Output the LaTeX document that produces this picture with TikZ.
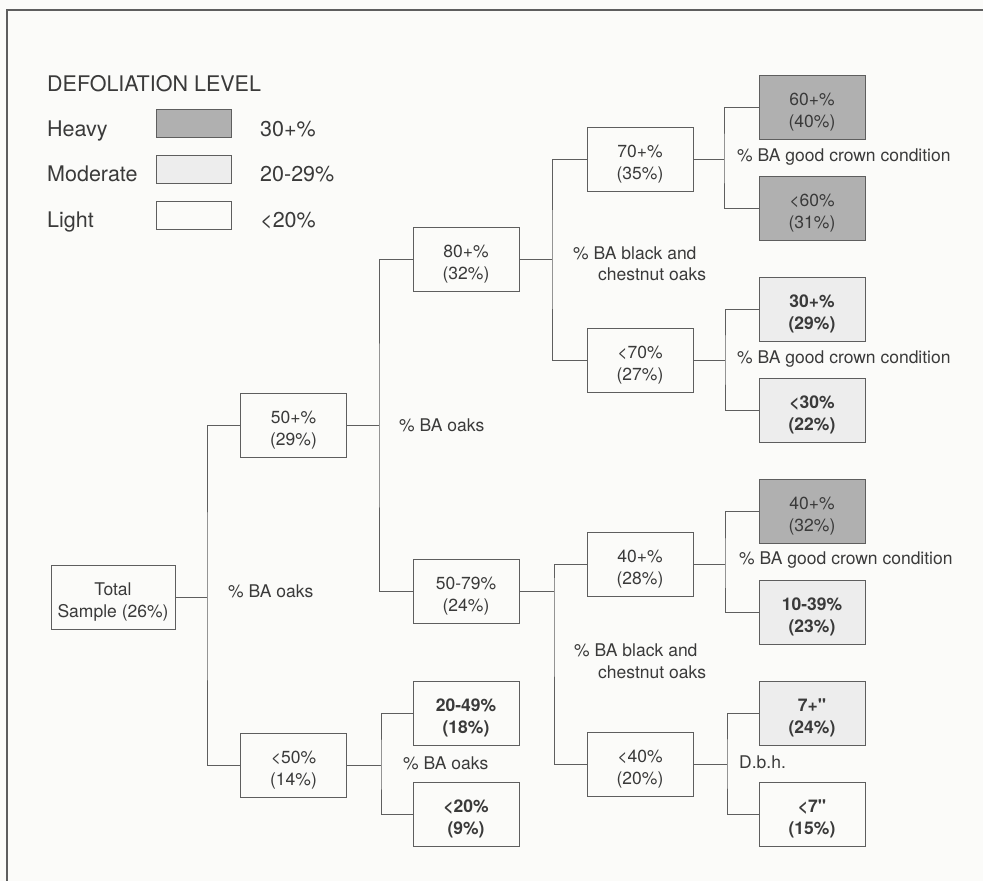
\documentclass[tikz,border=0pt]{standalone}
\usepackage{fontspec}
\setmainfont{TeX Gyre Heros}[Ligatures=TeXOff]
\definecolor{bg}{HTML}{FBFBF9}
\definecolor{ink}{HTML}{3A3A3A}
\definecolor{ln}{HTML}{5E5E5E}
\definecolor{heavy}{HTML}{B0B0B0}
\definecolor{moder}{HTML}{EDEDED}
\newcommand{\bxt}[2]{\raisebox{-5pt}[\height][\depth]{\begin{tabular}{@{}c@{}}#1\\#2\end{tabular}}}
\begin{document}
\begin{tikzpicture}[x=1pt,y=-1pt,
 box/.style={draw=ln, line width=1pt, minimum width=106pt, minimum height=64pt, inner sep=0pt, font=\fontsize{17.5}{22}\selectfont, text=ink, fill=bg},
 leaf/.style={box, font=\fontsize{17.5}{22}\selectfont\bfseries},
 hv/.style={box, fill=heavy},
 md/.style={leaf, fill=moder},
 lab/.style={anchor=base west, inner sep=0pt, text=ink, font=\fontsize{17.5}{22}\selectfont},
 leg/.style={anchor=base west, inner sep=0pt, text=ink, font=\fontsize{21.5}{26}\selectfont},
 legbox/.style={draw=ln, line width=1pt, minimum width=75pt, minimum height=28pt, inner sep=0pt},
 conn/.style={draw=ln, line width=1pt}]
\fill[bg] (0,0) rectangle (983,881);
\useasboundingbox (0,0) rectangle (983,881);
\draw[ln, line width=1.5pt] (983,10) -- (7,10) -- (7,881);

% legend
\node[leg] (lt) at (47,91) {DEFOLIATION LEVEL};
\node[leg] (lh) at (47,136) {Heavy};
\node[legbox, fill=heavy] (bh) at (193.5,123) {};
\node[leg] (vh) at (260,136) {30+\%};
\node[leg] (lm) at (47,181) {Moderate};
\node[legbox, fill=moder] (bm) at (193.5,169.5) {};
\node[leg] (vm) at (260,181) {20-29\%};
\node[leg] (ll) at (47,227) {Light};
\node[legbox, fill=bg] (bl) at (193.5,215.5) {};
\node[leg] (vl) at (260,227) {<20\%};

% boxes
\node[box, minimum width=124pt] (tot) at (113,597) {\bxt{Total}{Sample (26\%)}};
\node[box] (n50p) at (293.5,425.5) {\bxt{50+\%}{(29\%)}};
\node[box] (n50m) at (293.5,765) {\bxt{<50\%}{(14\%)}};
\node[box] (n80) at (466,259) {\bxt{80+\%}{(32\%)}};
\node[box] (n5079) at (466,591) {\bxt{50-79\%}{(24\%)}};
\node[leaf] (n2049) at (466,713) {\bxt{20-49\%}{(18\%)}};
\node[leaf] (n20) at (466,814) {\bxt{<20\%}{(9\%)}};
\node[box] (n70p) at (640,159) {\bxt{70+\%}{(35\%)}};
\node[box] (n70m) at (640,360) {\bxt{<70\%}{(27\%)}};
\node[box] (n40p) at (640,564) {\bxt{40+\%}{(28\%)}};
\node[box] (n40m) at (640,764) {\bxt{<40\%}{(20\%)}};
\node[hv] (l60p) at (812,107.5) {\bxt{60+\%}{(40\%)}};
\node[hv] (l60m) at (812,208.5) {\bxt{<60\%}{(31\%)}};
\node[md] (l30p) at (812,309.5) {\bxt{30+\%}{(29\%)}};
\node[md] (l30m) at (812,410) {\bxt{<30\%}{(22\%)}};
\node[hv] (l40p) at (812,511) {\bxt{40+\%}{(32\%)}};
\node[md] (l1039) at (812,612) {\bxt{10-39\%}{(23\%)}};
\node[md] (l7p) at (812,713) {\bxt{7+\textquotedbl}{(24\%)}};
\node[leaf] (l7m) at (812,814) {\bxt{<7\textquotedbl}{(15\%)}};

% junctions
\coordinate (j0) at (207,597);
\coordinate (j1) at (379,425.5);
\coordinate (j2) at (381,765);
\coordinate (j3) at (552,259);
\coordinate (j4) at (554,591);
\coordinate (j5) at (724,159);
\coordinate (j6) at (725,360);
\coordinate (j7) at (725,564);
\coordinate (j8) at (727,764);

\draw[conn] (tot.east) -- (j0);
\draw[conn] (n50p.west) -| (j0) |- (n50m.west);
\draw[conn] (n50p.east) -- (j1);
\draw[conn] (n80.west) -| (j1) |- (n5079.west);
\draw[conn] (n50m.east) -- (j2);
\draw[conn] (n2049.west) -| (j2) |- (n20.west);
\draw[conn] (n80.east) -- (j3);
\draw[conn] (n70p.west) -| (j3) |- (n70m.west);
\draw[conn] (n5079.east) -- (j4);
\draw[conn] (n40p.west) -| (j4) |- (n40m.west);
\draw[conn] (n70p.east) -- (j5);
\draw[conn] (l60p.west) -| (j5) |- (l60m.west);
\draw[conn] (n70m.east) -- (j6);
\draw[conn] (l30p.west) -| (j6) |- (l30m.west);
\draw[conn] (n40p.east) -- (j7);
\draw[conn] (l40p.west) -| (j7) |- (l1039.west);
\draw[conn] (n40m.east) -- (j8);
\draw[conn] (l7p.west) -| (j8) |- (l7m.west);

% labels
\node[lab] (a1) at (228,597) {\% BA oaks};
\node[lab] (a2) at (399,431) {\% BA oaks};
\node[lab] (a3) at (403,769) {\% BA oaks};
\node[lab] (b1) at (573,259) {\% BA black and};
\node[lab] (b2) at (598,280) {chestnut oaks};
\node[lab] (b3) at (574,656) {\% BA black and};
\node[lab] (b4) at (598,678) {chestnut oaks};
\node[lab] (c1) at (737,161) {\% BA good crown condition};
\node[lab] (c2) at (737,363) {\% BA good crown condition};
\node[lab] (c3) at (739,564) {\% BA good crown condition};
\node[lab] (d1) at (739,768) {D.b.h.};
\end{tikzpicture}
\end{document}
